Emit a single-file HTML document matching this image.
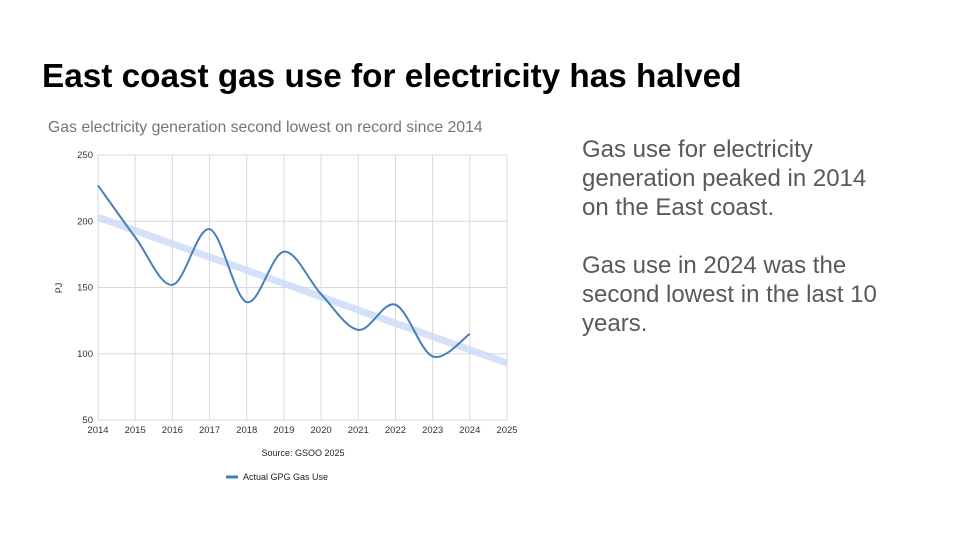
<!DOCTYPE html>
<html><head><meta charset="utf-8"><style>
body{margin:0;width:960px;height:540px;background:#fff;overflow:hidden;font-family:"Liberation Sans",Arial,sans-serif;position:relative}
h1{position:absolute;left:42px;top:58px;margin:0;font-size:33.3px;font-weight:bold;color:#000}
.side{position:absolute;left:582px;top:135px;font-size:24px;line-height:29px;color:#595959;width:300px}
.side p{margin:0 0 29px 0}
</style></head><body>
<h1>East coast gas use for electricity has halved</h1>
<div class="side"><p>Gas use for electricity generation peaked in 2014 on the East coast.</p><p>Gas use in 2024 was the second lowest in the last 10 years.</p></div>
<svg id="chart" width="960" height="540" style="position:absolute;left:0;top:0"></svg>
<script>
const years=[2014,2015,2016,2017,2018,2019,2020,2021,2022,2023,2024];
const gasUse=[227,188,152,194,139,177,145,118,137,98,115];
const trendYears=[2014,2025];
const trendValues=[203,93];
const yTicks=[50,100,150,200,250];
const xTicks=[2014,2015,2016,2017,2018,2019,2020,2021,2022,2023,2024,2025];
const NS="http://www.w3.org/2000/svg";
const svg=document.getElementById('chart');
const X0=98,X1=507,Y0=420,Y1=155;
const xs=v=>X0+(v-2014)/(2025-2014)*(X1-X0);
const ys=v=>Y0-(v-50)/(250-50)*(Y0-Y1);
function mk(t,a,txt){const e=document.createElementNS(NS,t);for(const k in a)e.setAttribute(k,a[k]);if(txt!==undefined)e.textContent=txt;svg.appendChild(e);return e;}
let e=mk('text',{x:48,y:132,'font-size':15.8,fill:'#757575'},'Gas electricity generation second lowest on record since 2014');


yTicks.forEach(v=>{
 let g=mk('line',{x1:X0,x2:X1,y1:ys(v),y2:ys(v),stroke:'#d9d9d9','stroke-width':1});
 
 
 let t=mk('text',{x:X0-5,y:ys(v)+3,'font-size':9.5,'text-anchor':'end',fill:'#333'},v);
 
 
});
xTicks.forEach(v=>{
 let g=mk('line',{x1:xs(v),x2:xs(v),y1:Y1,y2:Y0,stroke:'#d9d9d9','stroke-width':1});
 
 
 let t=mk('text',{x:xs(v),y:Y0+13,'font-size':9.5,'text-anchor':'middle',fill:'#333'},v);
 
 
});
e=mk('text',{x:62,y:288,'font-size':9,'text-anchor':'middle',fill:'#333',transform:'rotate(-90 62 288)'},'PJ');


e=mk('line',{x1:xs(trendYears[0]),y1:ys(trendValues[0]),x2:xs(trendYears[1]),y2:ys(trendValues[1]),stroke:'#c9daf8','stroke-width':7,'stroke-opacity':0.8});


const pts=years.map((y,i)=>[xs(y),ys(gasUse[i])]);
let d='M'+pts[0][0]+','+pts[0][1];
for(let i=0;i<pts.length-1;i++){
 const p0=pts[Math.max(i-1,0)],p1=pts[i],p2=pts[i+1],p3=pts[Math.min(i+2,pts.length-1)];
 const k=1/6;
 d+=` C${p1[0]+(p2[0]-p0[0])*k},${p1[1]+(p2[1]-p0[1])*k} ${p2[0]-(p3[0]-p1[0])*k},${p2[1]-(p3[1]-p1[1])*k} ${p2[0]},${p2[1]}`;
}
e=mk('path',{d:d,fill:'none',stroke:'#4a7ebb','stroke-width':2});


e=mk('text',{x:303,y:456,'font-size':9,'text-anchor':'middle',fill:'#222'},'Source: GSOO 2025');


e=mk('line',{x1:226,x2:238,y1:477,y2:477,stroke:'#4a7ebb','stroke-width':3});


e=mk('text',{x:243,y:480,'font-size':9,fill:'#222'},'Actual GPG Gas Use');


</script>
</body></html>
